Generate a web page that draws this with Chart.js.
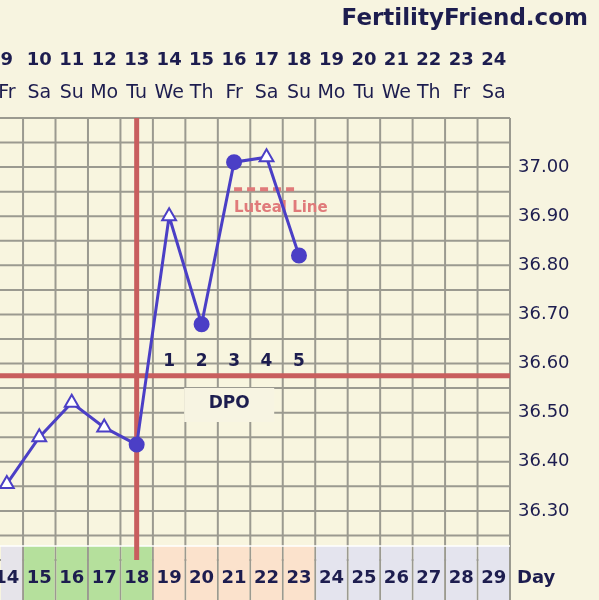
<!DOCTYPE html>
<html><head><meta charset="utf-8">
<script src="https://cdn.jsdelivr.net/npm/chart.js@4"></script>
<style>html,body{margin:0;padding:0;background:#f7f4e0}canvas{display:block}</style>
</head><body>
<div style="width:599px;height:600px"><canvas id="c" width="599" height="600"></canvas></div>
<script>
const days=[14,15,16,17,18,19,20,21,22,23,24,25,26,27,28,29];
const dates=[9,10,11,12,13,14,15,16,17,18,19,20,21,22,23,24];
const weekdays=["Fr","Sa","Su","Mo","Tu","We","Th","Fr","Sa","Su","Mo","Tu","We","Th","Fr","Sa"];
const tempDays=[14,15,16,17,18,19,20,21,22,23];
const temps=[36.355,36.45,36.52,36.47,36.435,36.90,36.68,37.01,37.02,36.82];
const markers=["triangle","triangle","triangle","triangle","circle","triangle","circle","circle","triangle","circle"];
const dpoDays=[19,20,21,22,23];
const dpoLabels=["1","2","3","4","5"];
const yTicks=[36.30,36.40,36.50,36.60,36.70,36.80,36.90,37.00];
const coverline=36.575;
const lutealLine=36.955;
const lutealDays=[21,23];
const zoneColor=d=>d<=14?"#e6e4ea":d<=18?"#b5e09c":d<=23?"#fbe2cc":"#e4e4ee";
const INK="#1d1d4f", LINE="#4b3fc6";
const plugin={id:'ff',
beforeDatasetsDraw(ch){const c=ch.ctx,x=ch.scales.x,y=ch.scales.y,a=ch.chartArea;
 c.save();c.fillStyle="#f8f5df";c.fillRect(a.left,a.top,a.right-a.left,a.bottom-a.top);
 c.strokeStyle="#9b9a90";c.lineWidth=2;
 for(let d=13.5;d<=29.5;d++){const px=x.getPixelForValue(d);if(px<a.left)continue;c.beginPath();c.moveTo(px,a.top);c.lineTo(px,600);c.stroke();}
 for(let v=36.20;v<=37.101;v+=0.05){const py=y.getPixelForValue(v);c.beginPath();c.moveTo(a.left,py);c.lineTo(a.right,py);c.stroke();}
 days.forEach(d=>{const l=Math.max(0,x.getPixelForValue(d-0.5)),r=x.getPixelForValue(d+0.5);c.fillStyle=zoneColor(d);c.fillRect(l+1,a.bottom-14,r-l-2,600-a.bottom+14);});
 c.strokeStyle="#ffffff";c.lineWidth=1.5;c.beginPath();c.moveTo(0,a.bottom-14);c.lineTo(a.right,a.bottom-14);c.stroke();
 c.strokeStyle="#c85e5e";c.lineWidth=5;
 const cy=y.getPixelForValue(coverline);c.beginPath();c.moveTo(a.left,cy);c.lineTo(a.right,cy);c.stroke();
 const ox=x.getPixelForValue(18);c.beginPath();c.moveTo(ox,a.top);c.lineTo(ox,a.bottom);c.stroke();
 c.strokeStyle="#e07a7a";c.lineWidth=4;c.setLineDash([8,5]);const ly=y.getPixelForValue(lutealLine);
 c.beginPath();c.moveTo(x.getPixelForValue(lutealDays[0]),ly);c.lineTo(x.getPixelForValue(lutealDays[1]),ly);c.stroke();c.setLineDash([]);
 c.fillStyle="#e07a7a";c.font="bold 15px 'DejaVu Sans'";c.textBaseline="middle";c.textAlign="left";
 c.fillText("Luteal Line",x.getPixelForValue(21),ly+19);
 c.fillStyle="#f7f4e2";const dx=x.getPixelForValue(20.85);c.fillRect(dx-45,388,90,34);
 c.fillStyle=INK;c.textAlign="center";c.font="bold 17px 'DejaVu Sans'";c.fillText("DPO",dx,404);
 dpoDays.forEach((d,i)=>c.fillText(dpoLabels[i],x.getPixelForValue(d),362));
 c.restore();},
afterDraw(ch){const c=ch.ctx,x=ch.scales.x,y=ch.scales.y;c.save();
 c.fillStyle=INK;c.textBaseline="middle";c.textAlign="center";
 c.font="bold 18px 'DejaVu Sans'";
 days.forEach((d,i)=>{const px=x.getPixelForValue(d);c.fillText(String(dates[i]),px,60);c.fillText(String(d),px,578);});
 c.font="19px 'DejaVu Sans'";
 days.forEach((d,i)=>c.fillText(weekdays[i],x.getPixelForValue(d),93));
 c.textAlign="left";c.font="18px 'DejaVu Sans'";
 yTicks.forEach(v=>c.fillText(v.toFixed(2),518,y.getPixelForValue(v)));
 c.font="bold 18px 'DejaVu Sans'";c.fillText("Day",517,578);
 c.textAlign="right";c.font="bold 23px 'DejaVu Sans'";c.fillText("FertilityFriend.com",588,19);
 c.restore();}};
new Chart(document.getElementById('c'),{type:'line',
data:{datasets:[{data:tempDays.map((d,i)=>({x:d,y:temps[i]})),borderColor:LINE,borderWidth:3,tension:0,
 pointStyle:markers,pointRadius:markers.map(m=>m==="circle"?7:8),
 pointBackgroundColor:markers.map(m=>m==="circle"?LINE:"#ffffff"),pointBorderColor:LINE,pointBorderWidth:2,clip:false}]},
options:{responsive:false,animation:false,layout:{autoPadding:false,padding:{left:0,right:89,top:118,bottom:40}},
 plugins:{legend:{display:false},tooltip:{enabled:false}},
 scales:{x:{type:'linear',min:13.79,max:29.5,display:false},y:{min:36.20,max:37.10,display:false}}},
plugins:[plugin]});
</script></body></html>
